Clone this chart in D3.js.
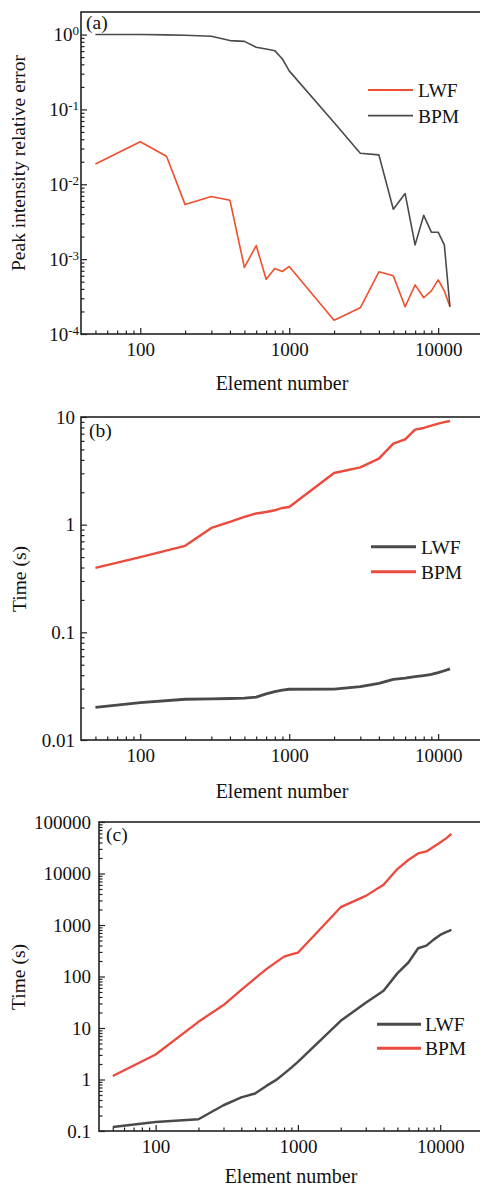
<!DOCTYPE html>
<html>
<head>
<meta charset="utf-8">
<script src="https://cdn.jsdelivr.net/npm/d3@7"></script>
<style>
  html, body { margin: 0; padding: 0; background: #fff; }
  svg { display: block; }
  text { font-family: "Liberation Serif", "Times New Roman", serif; fill: #111; }
</style>
</head>
<body>
<svg id="fig" width="480" height="1187"></svg>
<script>
// ---- data -------------------------------------------------------------
// (a) peak intensity relative error
const elementsA = [50, 100, 150, 200, 300, 400, 500, 600, 700, 800, 900, 1000,
  2000, 3000, 4000, 5000, 6000, 7000, 8000, 9000, 10000, 11000, 12000];
const errorLWF = [0.0187, 0.037, 0.0237, 0.00535, 0.00686, 0.00612, 0.000774, 0.00152,
  0.00054, 0.00075, 0.000684, 0.000798, 0.000153, 0.000224, 0.000678, 0.000598,
  0.000231, 0.000453, 0.000305, 0.000376, 0.000529, 0.000376, 0.000231];
const errorBPM = [1.0, 1.0, 0.99, 0.98, 0.95, 0.83, 0.81, 0.675, 0.64, 0.609, 0.471, 0.327,
  0.067, 0.026, 0.0247, 0.00463, 0.00752, 0.00155, 0.00385, 0.00229, 0.00229, 0.00155, 0.000231];

// (b) and (c) computation time
const elementsT = [50, 100, 200, 300, 400, 500, 600, 700, 800, 900, 1000,
  2000, 3000, 4000, 5000, 6000, 7000, 8000, 9000, 10000, 11000, 12000];
const timeLWFb = [0.0201, 0.0222, 0.0239, 0.0241, 0.0243, 0.0245, 0.025, 0.0268, 0.0281, 0.029, 0.0296,
  0.0297, 0.0313, 0.0336, 0.0366, 0.0375, 0.0387, 0.0397, 0.0407, 0.0422, 0.044, 0.0457];
const timeBPMb = [0.397, 0.50, 0.636, 0.933, 1.06, 1.18, 1.27, 1.31, 1.36, 1.43, 1.46,
  3.02, 3.40, 4.11, 5.66, 6.21, 7.64, 7.91, 8.3, 8.68, 8.95, 9.18];
const timeLWFc = [0.12, 0.15, 0.169, 0.316, 0.45, 0.535, 0.75, 0.97, 1.3, 1.7, 2.2,
  13.8, 31, 53, 115, 189, 354, 398, 520, 641, 730, 804];
const timeBPMc = [1.17, 3.06, 13.2, 27.9, 55, 92, 139, 188, 243, 268, 290,
  2220, 3680, 6030, 12200, 18500, 24500, 26800, 33000, 40000, 48000, 59000];

// ---- tick values ------------------------------------------------------
const xMajor = [100, 1000, 10000];
const xMinor = [50, 60, 70, 80, 90, 200, 300, 400, 500, 600, 700, 800, 900,
  2000, 3000, 4000, 5000, 6000, 7000, 8000, 9000];
const yMajorA = [1e-4, 1e-3, 1e-2, 1e-1, 1];
const yMajorB = [0.01, 0.1, 1, 10];
const yMajorC = [0.1, 1, 10, 100, 1000, 10000, 100000];

// minor ticks 2..9 of every decade inside a domain
function minorTicks(lo, hi) {
  const out = [];
  for (let e = Math.floor(Math.log10(lo)); e <= Math.ceil(Math.log10(hi)); e++) {
    for (let m = 2; m <= 9; m++) {
      const v = m * Math.pow(10, e);
      if (v > lo * 1.0001 && v < hi * 0.9999) out.push(+v.toPrecision(6));
    }
  }
  return out;
}

const RED_A = "#ee4f2c";
const RED = "#eb4a3c";
const GRAY = "#4a4a4a";
const svg = d3.select("#fig");

function panel(o) {
  const x = d3.scaleLog().domain([40, 20000]).range([o.left, o.right]);
  const y = d3.scaleLog().domain(o.yDomain).range([o.bottom, o.top]);
  const g = svg.append("g");

  // data lines
  const line = d3.line().x(d => x(d[0])).y(d => y(d[1]));
  o.series.forEach(s => {
    g.append("path")
      .datum(d3.zip(s.x, s.y))
      .attr("d", line)
      .attr("fill", "none")
      .attr("stroke", s.color)
      .attr("stroke-width", s.width)
      .attr("stroke-linejoin", "round");
  });

  // bottom axis: major + minor ticks pointing inward
  const xa = g.append("g").attr("transform", `translate(0,${o.bottom})`);
  xa.append("g")
    .call(d3.axisBottom(x).tickValues(xMajor).tickSize(-6).tickPadding(9).tickFormat(d3.format("d")))
    .call(s => s.select(".domain").remove());
  xa.append("g")
    .call(d3.axisBottom(x).tickValues(xMinor).tickSize(-3.5).tickFormat(""))
    .call(s => s.select(".domain").remove());

  // left axis
  const ya = g.append("g").attr("transform", `translate(${o.left},0)`);
  const major = ya.append("g")
    .call(d3.axisLeft(y).tickValues(o.yMajor).tickSize(-6).tickPadding(o.yPad).tickFormat(o.yFormat || (d => String(d))))
    .call(s => s.select(".domain").remove());
  ya.append("g")
    .call(d3.axisLeft(y).tickValues(minorTicks(o.yDomain[0], o.yDomain[1])).tickSize(-3.5).tickFormat(""))
    .call(s => s.select(".domain").remove());

  if (o.power) {
    major.selectAll(".tick text").each(function (d) {
      const t = d3.select(this).text(null);
      const e = Math.round(Math.log10(d));
      t.append("tspan").text("10");
      t.append("tspan").attr("dy", "-0.45em").attr("font-size", "13px").text(String(e).replace("-", "-"));
    });
  }

  g.selectAll(".tick line").attr("stroke", "#222").attr("stroke-width", 1.2);
  g.selectAll(".tick text")
    .attr("font-family", '"Liberation Serif","Times New Roman",serif')
    .attr("font-size", 19).attr("fill", "#111");

  // frame
  g.append("rect")
    .attr("x", o.left).attr("y", o.top)
    .attr("width", o.right - o.left).attr("height", o.bottom - o.top)
    .attr("fill", "none").attr("stroke", "#222").attr("stroke-width", 1.6);

  // titles
  g.append("text")
    .attr("x", (o.left + o.right) / 2).attr("y", o.xTitleY)
    .attr("text-anchor", "middle").attr("font-size", 20)
    .text("Element number");
  g.append("text")
    .attr("transform", `translate(${o.yTitleX},${o.yTitleY}) rotate(-90)`)
    .attr("text-anchor", "middle").attr("font-size", 19.5)
    .text(o.yTitle);

  // panel tag
  g.append("text").attr("x", o.tagX).attr("y", o.tagY).attr("font-size", 19.5).text(o.tag);

  // legend
  o.series.forEach((s, i) => {
    const ly = o.legend.y[i];
    g.append("line")
      .attr("x1", o.legend.x1).attr("x2", o.legend.x2)
      .attr("y1", ly).attr("y2", ly)
      .attr("stroke", s.color).attr("stroke-width", o.legend.w);
    g.append("text")
      .attr("x", o.legend.tx).attr("y", ly + 7)
      .attr("font-size", 19.5).text(s.name);
  });
}

panel({
  left: 81, right: 483, top: 12, bottom: 334,
  yDomain: [1e-4, 2], yMajor: yMajorA, yPad: 2, power: true,
  yTitle: "Peak intensity relative error", yTitleX: 25, yTitleY: 163,
  xTitleY: 390, tag: "(a)", tagX: 86, tagY: 29,
  series: [
    { name: "LWF", x: elementsA, y: errorLWF, color: RED_A, width: 1.6 },
    { name: "BPM", x: elementsA, y: errorBPM, color: GRAY, width: 1.6 }
  ],
  legend: { x1: 368, x2: 413, tx: 418, y: [90, 115.7], w: 1.8 }
});

panel({
  left: 81, right: 483, top: 417, bottom: 740,
  yDomain: [0.01, 10], yMajor: yMajorB, yPad: 6,
  yTitle: "Time (s)", yTitleX: 26, yTitleY: 579,
  xTitleY: 798, tag: "(b)", tagX: 89, tagY: 437,
  series: [
    { name: "LWF", x: elementsT, y: timeLWFb, color: GRAY, width: 2.8 },
    { name: "BPM", x: elementsT, y: timeBPMb, color: RED, width: 2.4 }
  ],
  legend: { x1: 371, x2: 416, tx: 421, y: [546.7, 571.7], w: 3 }
});

panel({
  left: 99, right: 483, top: 822, bottom: 1131,
  yDomain: [0.1, 100000], yMajor: yMajorC, yPad: 8,
  yTitle: "Time (s)", yTitleX: 25, yTitleY: 977,
  xTitleY: 1183, tag: "(c)", tagX: 106, tagY: 841,
  series: [
    { name: "LWF", x: elementsT, y: timeLWFc, color: GRAY, width: 2.5 },
    { name: "BPM", x: elementsT, y: timeBPMc, color: RED, width: 2.3 }
  ],
  legend: { x1: 377, x2: 421, tx: 425, y: [1024.3, 1048.3], w: 3 }
});
</script>
</body>
</html>
